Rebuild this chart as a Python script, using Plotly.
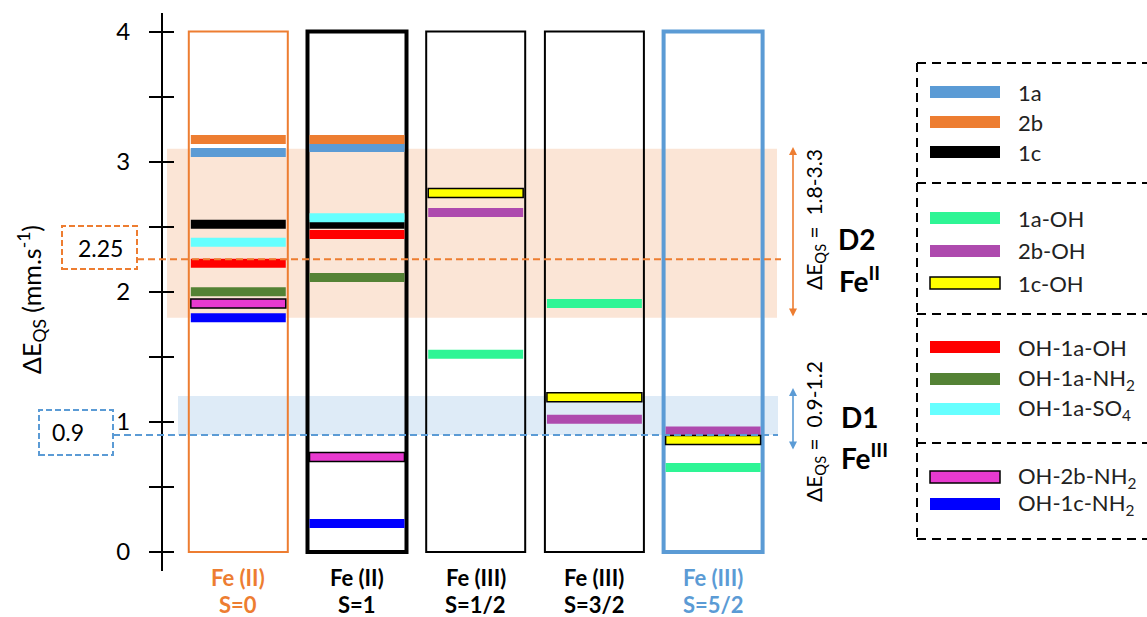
import plotly.graph_objects as go

# ---------------- data ----------------
columns = ["Fe (II)<br>S=0", "Fe (II)<br>S=1", "Fe (III)<br>S=1/2",
           "Fe (III)<br>S=3/2", "Fe (III)<br>S=5/2"]

series_names = ["1a", "2b", "1c",
                "1a-OH", "2b-OH", "1c-OH",
                "OH-1a-OH", "OH-1a-NH<sub>2</sub>", "OH-1a-SO<sub>4</sub>",
                "OH-2b-NH<sub>2</sub>", "OH-1c-NH<sub>2</sub>"]

# quadrupole splitting (mm/s) per spin state column
v_1a = [3.07, 3.11, None, None, None]
v_2b = [3.17, 3.17, None, None, None]
v_1c = [2.52, 2.52, None, None, None]
v_1a_oh = [None, None, 1.52, 1.91, 0.65]
v_2b_oh = [None, None, 2.61, 1.02, 0.93]
v_1c_oh = [None, None, 2.76, 1.19, 0.86]
v_oh_1a_oh = [2.22, 2.44, None, None, None]
v_oh_1a_nh2 = [2.00, 2.11, None, None, None]
v_oh_1a_so4 = [2.38, 2.57, None, None, None]
v_oh_2b_nh2 = [1.91, 0.73, None, None, None]
v_oh_1c_nh2 = [1.80, 0.22, None, None, None]

series_values = [v_1a, v_2b, v_1c, v_1a_oh, v_2b_oh, v_1c_oh,
                 v_oh_1a_oh, v_oh_1a_nh2, v_oh_1a_so4, v_oh_2b_nh2, v_oh_1c_nh2]

# domains
d2_range = [1.8, 3.1]
d1_range = [0.9, 1.2]
d2_ref = 2.25
d1_ref = 0.9

y_tick_vals = [0, 0.5, 1, 1.5, 2, 2.5, 3, 3.5, 4]
y_tick_text = ["0", "", "1", "", "2", "", "3", "", "4"]

# ---------------- styles ----------------
series_colors = ["#5B9BD5", "#ED7D31", "#000000",
                 "#2EF595", "#AE4AAE", "#FFFF00",
                 "#FF0000", "#548235", "#66FFFF",
                 "#E83ACF", "#0000FF"]
series_outlined = [False, False, False, False, False, True,
                   False, False, False, True, False]
col_line_colors = ["#ED7D31", "#000000", "#000000", "#000000", "#5B9BD5"]
col_line_widths = [2, 4, 2, 2, 4]
col_text_colors = ["#ED7D31", "#000000", "#000000", "#000000", "#5B9BD5"]

FONT = "Lato"
W, H = 1147, 617

def fx(p):
    return p / W

def fy(p):
    return 1 - p / H

# axis geometry (pixels)
Y0_PX, PPU = 552.0, 130.1          # y=0 position, pixels per unit
Y_TOP_PX, Y_BOT_PX = 13, 571        # axis line extent
X0_PX, PPX = 238.3, 118.7          # first column centre, pixels per column
AXIS_X_PX = 162

yrange = [(Y0_PX - Y_BOT_PX) / PPU, (Y0_PX - Y_TOP_PX) / PPU]
ydomain = [1 - Y_BOT_PX / H, 1 - Y_TOP_PX / H]
xrange = [-X0_PX / PPX, (W - X0_PX) / PPX]

BOX_HALF = 0.417
BAR_HALF = 0.40
BAR_PX = 9


def label(text, xp, yp, size, color="#000000", angle=0, xanchor="center", bold=False):
    if bold:
        text = "<b>%s</b>" % text
    return dict(text=text, xref="paper", yref="paper", x=fx(xp), y=fy(yp),
                xanchor=xanchor, yanchor="middle", textangle=angle, showarrow=False,
                font=dict(size=size, color=color, family=FONT))


fig = go.Figure()
# invisible traces so both y axes are drawn
fig.add_trace(go.Scatter(x=[None], y=[None], xaxis="x", yaxis="y", showlegend=False))
fig.add_trace(go.Scatter(x=[None], y=[None], xaxis="x", yaxis="y2", showlegend=False))

shapes = []
annotations = []

# domain bands
shapes.append(dict(type="rect", xref="paper", yref="y", x0=fx(167), x1=fx(777),
                   y0=d2_range[0], y1=d2_range[1], fillcolor="rgba(237,125,49,0.2)",
                   line=dict(width=0), layer="below"))
shapes.append(dict(type="rect", xref="paper", yref="y", x0=fx(178), x1=fx(778),
                   y0=d1_range[0], y1=d1_range[1], fillcolor="rgba(91,155,213,0.2)",
                   line=dict(width=0), layer="below"))

# spin state columns
for i, _ in enumerate(columns):
    shapes.append(dict(type="rect", xref="x", yref="y", x0=i - BOX_HALF, x1=i + BOX_HALF,
                       y0=0, y1=4, line=dict(color=col_line_colors[i], width=col_line_widths[i]),
                       fillcolor="rgba(0,0,0,0)", layer="above"))

# level bars
for name, vals, col, outl in zip(series_names, series_values, series_colors, series_outlined):
    for i, v in enumerate(vals):
        if v is None:
            continue
        shapes.append(dict(type="rect", xref="x", yref="y", ysizemode="pixel", yanchor=v,
                           y0=-BAR_PX / 2, y1=BAR_PX / 2, x0=i - BAR_HALF, x1=i + BAR_HALF,
                           fillcolor=col,
                           line=dict(color="#000000" if outl else col, width=1.5 if outl else 0),
                           layer="above"))

# reference dashed lines
shapes.append(dict(type="line", xref="paper", yref="y", x0=fx(137), x1=fx(781),
                   y0=d2_ref, y1=d2_ref, line=dict(color="#ED7D31", width=2, dash="7px,4px"),
                   layer="above"))
shapes.append(dict(type="line", xref="paper", yref="y", x0=fx(113), x1=fx(778),
                   y0=d1_ref, y1=d1_ref, line=dict(color="#5B9BD5", width=2, dash="7px,4px"),
                   layer="above"))

# value boxes on the left
shapes.append(dict(type="rect", xref="paper", yref="paper", x0=fx(62), x1=fx(137),
                   y0=fy(269), y1=fy(226), line=dict(color="#ED7D31", width=2, dash="6px,3px")))
shapes.append(dict(type="rect", xref="paper", yref="paper", x0=fx(39), x1=fx(113),
                   y0=fy(455), y1=fy(410), line=dict(color="#5B9BD5", width=2, dash="6px,3px")))
annotations.append(label(str(d2_ref), 100, 248, 23))
annotations.append(label(str(d1_ref), 68, 432, 23))

# y axis title
annotations.append(label("ΔE<sub>QS</sub> (mm.s<sup>-1</sup>)", 31, 300, 25, angle=-90))

# column labels
for i, lab in enumerate(columns):
    top, bottom = lab.split("<br>")
    for txt, yp in ((top, 577), (bottom, 604)):
        annotations.append(dict(text="<b>%s</b>" % txt, xref="x", yref="paper", x=i, y=fy(yp),
                                yanchor="middle", showarrow=False,
                                font=dict(size=22, color=col_text_colors[i], family=FONT)))

# range arrows and domain labels
annotations.append(dict(text="", xref="paper", yref="paper", x=fx(793), y=fy(147),
                        axref="pixel", ayref="pixel", ax=0, ay=171, showarrow=True,
                        arrowhead=2, startarrowhead=2, arrowside="end+start", arrowsize=1,
                        arrowwidth=1.6, arrowcolor="#ED7D31"))
annotations.append(dict(text="", xref="paper", yref="paper", x=fx(793), y=fy(388),
                        axref="pixel", ayref="pixel", ax=0, ay=63, showarrow=True,
                        arrowhead=2, startarrowhead=2, arrowside="end+start", arrowsize=1,
                        arrowwidth=1.6, arrowcolor="#5B9BD5"))
annotations.append(label("ΔE<sub>QS</sub> =  1.8-3.3", 815, 220, 21, angle=-90))
annotations.append(label("ΔE<sub>QS</sub> =  0.9-1.2", 815, 432, 21, angle=-90))
annotations.append(label("D2", 857, 239, 28, bold=True))
annotations.append(label("Fe<sup>II</sup>", 859, 279, 28, bold=True))
annotations.append(label("D1", 860, 417, 28, bold=True))
annotations.append(label("Fe<sup>III</sup>", 864, 457, 28, bold=True))

# legend frame (dashed groups)
frame_dash = dict(color="#000000", width=2, dash="9px,6px")
for yy in [63, 183, 314, 443, 539]:
    shapes.append(dict(type="line", xref="paper", yref="paper", x0=fx(917), x1=fx(1160),
                       y0=fy(yy), y1=fy(yy), line=frame_dash))
shapes.append(dict(type="line", xref="paper", yref="paper", x0=fx(917), x1=fx(917),
                   y0=fy(63), y1=fy(539), line=frame_dash))

legend_rows_px = [92, 122, 152, 218, 251, 283, 347, 379, 409, 477, 504]
for name, col, outl, ry in zip(series_names, series_colors, series_outlined, legend_rows_px):
    shapes.append(dict(type="rect", xref="paper", yref="paper", x0=fx(930), x1=fx(1000),
                       y0=fy(ry + 6), y1=fy(ry - 6), fillcolor=col,
                       line=dict(color="#000000" if outl else col, width=1.5 if outl else 0)))
    annotations.append(label(name, 1016, ry, 22, color="#222222", xanchor="left"))

fig.update_layout(
    width=W, height=H,
    margin=dict(l=0, r=0, t=0, b=0),
    paper_bgcolor="white", plot_bgcolor="white",
    showlegend=False,
    font=dict(family=FONT, color="#000000", size=20),
    xaxis=dict(range=xrange, domain=[0, 1], visible=False, fixedrange=True),
    yaxis=dict(range=yrange, domain=ydomain, anchor="free", position=fx(AXIS_X_PX),
               side="left", showline=True, linecolor="#000000", linewidth=2,
               ticks="outside", ticklen=12, tickwidth=2, tickcolor="#000000",
               tickvals=y_tick_vals, ticktext=y_tick_text, ticklabelstandoff=14,
               tickfont=dict(size=24, color="#000000", family=FONT),
               showgrid=False, zeroline=False, fixedrange=True),
    yaxis2=dict(range=yrange, domain=ydomain, anchor="free", position=fx(AXIS_X_PX),
                overlaying="y", side="right", showline=False,
                ticks="outside", ticklen=11, tickwidth=2, tickcolor="#000000",
                tickvals=y_tick_vals, showticklabels=False,
                showgrid=False, zeroline=False, fixedrange=True),
    shapes=shapes,
    annotations=annotations,
)

fig.write_html("out.html")
